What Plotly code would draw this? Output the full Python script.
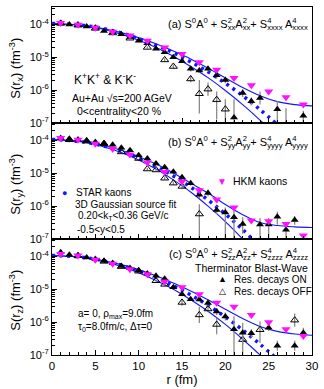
import plotly.graph_objects as go
from plotly.subplots import make_subplots

# ---------------- data: log10 of S(r) in fm^-3 ----------------
r_curve = [0, 4, 8, 12, 14, 16, 18, 20, 22, 24, 26, 28, 30]
r_hkm = [1, 3, 5, 7, 9, 11, 13, 15, 17, 19, 21, 23, 25, 27, 29]

# panel (a)  S(r_x)
a_upper = [-3.97, -4.04, -4.25, -4.59, -4.81, -5.05, -5.33, -5.63, -5.92, -6.17, -6.35, -6.44, -6.48]
a_mid = [-3.97, -4.04, -4.26, -4.63, -4.86, -5.14, -5.44, -5.79, -6.17, -6.59, -7.05]
a_lower = [-3.97, -4.05, -4.30, -4.70, -4.97, -5.28, -5.62, -6.01, -6.44, -6.91, -7.42]
a_hkm = [-3.96, -4.01, -4.10, -4.22, -4.34, -4.50, -4.70, -4.90, -5.15, -5.38, -5.63, -5.85, -6.04, -6.22, -6.44]
a_on_r = [1, 2, 3, 4, 5, 6, 7, 8, 9, 10, 11, 12, 13, 14, 15, 16, 17, 18, 19, 20, 21, 22, 23, 24, 26, 27, 29]
a_on = [-3.96, -4.00, -4.03, -4.06, -4.10, -4.20, -4.24, -4.30, -4.38, -4.50, -4.57, -4.74, -4.85, -5.00,
        -5.12, -5.35, -5.40, -5.35, -5.55, -5.69, -6.83, -6.09, -6.34, -6.24, -6.58, -7.05, -6.78]
a_on_eup = [0.02, 0.02, 0, 0, 0, 0, 0, 0, 0, 0, 0, 0, 0, 0.05, 0.05, 0.08, 0.08, 0.08, 0.1, 0.1,
            0.55, 0.12, 0.12, 0.2, 0.25, 0.5, 0.15]
a_on_edn = [0.02, 0.02, 0, 0, 0, 0, 0, 0, 0, 0, 0, 0, 0, 0.05, 0.05, 0.08, 0.08, 0.08, 0.1, 0.1,
            0.6, 0.12, 0.12, 0.2, 0.45, 0.5, 0.3]
a_off_r = [1, 3, 5, 7, 9, 11, 13, 14, 16, 17, 18, 19, 20]
a_off = [-3.97, -4.02, -4.12, -4.26, -4.42, -4.70, -5.08, -5.28, -5.66, -6.11, -5.97, -6.29, -6.58]
a_off_eup = [0, 0, 0, 0, 0, 0.03, 0.05, 0.06, 0.1, 0.42, 0.2, 0.25, 0.3]
a_off_edn = [0, 0, 0, 0, 0, 0.03, 0.05, 0.06, 0.1, 0.6, 0.2, 0.6, 0.5]

# panel (b)  S(r_y)
b_upper = [-3.97, -4.05, -4.30, -4.72, -4.99, -5.30, -5.60, -5.95, -6.26, -6.50, -6.59, -6.63, -6.65]
b_mid = [-3.97, -4.06, -4.33, -4.79, -5.08, -5.42, -5.81, -6.24, -6.71, -7.24]
b_lower = [-3.97, -4.07, -4.37, -4.87, -5.20, -5.57, -6.00, -6.47, -7.00, -7.58]
b_hkm = [-3.93, -3.98, -4.10, -4.25, -4.43, -4.67, -4.95, -5.25, -5.52, -5.80, -6.04, -6.44, -6.46, -6.54, -6.89]
b_on_r = [1, 2, 3, 4, 5, 6, 7, 8, 9, 10, 11, 12, 13, 14, 15, 16, 17, 18, 19, 20, 21, 22, 24, 25, 26, 27, 28]
b_on = [-3.93, -3.95, -3.97, -4.00, -4.05, -4.09, -4.13, -4.22, -4.30, -4.45, -4.55, -4.70, -4.82, -4.95,
        -5.12, -5.30, -5.65, -5.60, -6.12, -6.19, -6.34, -6.54, -6.56, -6.56, -6.32, -6.72, -6.42]
b_on_eup = [0] * 13 + [0.05, 0.05, 0.08, 0.1, 0.1, 0.12, 0.15, 0.2, 0.2, 0.2, 0.2, 0.15, 0.1, 0.12]
b_on_edn = [0] * 13 + [0.05, 0.05, 0.08, 0.1, 0.1, 0.12, 0.8, 0.7, 0.3, 0.6, 0.6, 0.25, 0.3, 0.15]
b_off_r = [2, 4, 6, 8, 10, 11, 12, 13, 14, 15, 17]
b_off = [-3.98, -4.02, -4.10, -4.35, -4.55, -4.87, -4.90, -5.15, -5.30, -5.40, -6.24]
b_off_eup = [0, 0, 0, 0, 0, 0.03, 0.03, 0.05, 0.05, 0.06, 0.3]
b_off_edn = [0, 0, 0, 0, 0, 0.03, 0.03, 0.05, 0.05, 0.06, 0.9]

# panel (c)  S(r_z)
c_upper = [-3.97, -4.04, -4.25, -4.59, -4.81, -5.05, -5.32, -5.61, -5.89, -6.13, -6.28, -6.36, -6.40]
c_mid = [-3.97, -4.04, -4.27, -4.64, -4.89, -5.17, -5.49, -5.84, -6.24, -6.67, -7.13]
c_lower = [-3.97, -4.05, -4.31, -4.73, -5.00, -5.32, -5.67, -6.07, -6.52, -7.00, -7.53]
c_hkm = [-3.93, -3.97, -4.10, -4.22, -4.39, -4.54, -4.76, -4.94, -5.15, -5.41, -5.53, -5.78, -6.00, -6.22, -6.42]
c_on_r = [1, 2, 3, 4, 5, 6, 7, 8, 9, 10, 11, 12, 13, 14, 15, 16, 17, 18, 19, 20, 21, 22, 23, 25, 26, 28, 29]
c_on = [-3.87, -3.95, -3.97, -4.03, -4.08, -4.14, -4.20, -4.29, -4.35, -4.42, -4.52, -4.59, -4.68, -4.94,
        -5.15, -5.30, -5.31, -5.42, -5.68, -5.83, -6.22, -6.32, -6.34, -6.17, -6.72, -6.72, -6.32]
c_on_eup = [0.03, 0.02] + [0] * 11 + [0.05, 0.06, 0.06, 0.06, 0.08, 0.1, 0.12, 0.4, 0.3, 0.12, 0.15, 0.15, 0.15, 0.15]
c_on_edn = [0.03, 0.02] + [0] * 11 + [0.05, 0.06, 0.06, 0.06, 0.08, 0.1, 0.12, 1.0, 0.8, 0.12, 0.1, 0.15, 0.15, 0.15]
c_off_r = [3, 6, 8, 10, 12, 13, 15, 17, 18, 19, 22, 24, 28]
c_off = [-3.98, -4.15, -4.31, -4.45, -4.74, -4.85, -5.40, -5.78, -5.60, -6.07, -6.53, -6.23, -5.94]
c_off_eup = [0, 0, 0, 0, 0.03, 0.04, 0.1, 0.25, 0.1, 0.2, 0.15, 0.25, 0.2]
c_off_edn = [0, 0, 0, 0, 0.03, 0.04, 0.1, 0.25, 0.1, 0.3, 0.15, 0.4, 0.2]

y_tick_exp = [-7, -6, -5, -4]
x_ticks = [0, 5, 10, 15, 20, 25, 30]

# ---------------- helpers ----------------
def lin(v):
    return [10 ** x for x in v]

def eplus(v, e):
    return [10 ** (x + d) - 10 ** x for x, d in zip(v, e)]

def eminus(v, e):
    return [10 ** x - 10 ** (x - d) for x, d in zip(v, e)]

BLUE = "#1414ff"
MAG = "#ff10ff"
GREY = "#8a8a8a"
FONT = "Liberation Sans, Arial, Helvetica, sans-serif"

panels = [
    dict(upper=a_upper, mid=a_mid, lower=a_lower, hkm=a_hkm, on_r=a_on_r, on=a_on, on_eu=a_on_eup,
         on_ed=a_on_edn, off_r=a_off_r, off=a_off, off_eu=a_off_eup, off_ed=a_off_edn),
    dict(upper=b_upper, mid=b_mid, lower=b_lower, hkm=b_hkm, on_r=b_on_r, on=b_on, on_eu=b_on_eup,
         on_ed=b_on_edn, off_r=b_off_r, off=b_off, off_eu=b_off_eup, off_ed=b_off_edn),
    dict(upper=c_upper, mid=c_mid, lower=c_lower, hkm=c_hkm, on_r=c_on_r, on=c_on, on_eu=c_on_eup,
         on_ed=c_on_edn, off_r=c_off_r, off=c_off, off_eu=c_off_eup, off_ed=c_off_edn),
]

fig = make_subplots(rows=3, cols=1, shared_xaxes=True, vertical_spacing=0)

for row, P in enumerate(panels, start=1):
    fig.add_trace(go.Scatter(x=r_curve[:len(P["upper"])], y=lin(P["upper"]), mode="lines",
                             line=dict(color=BLUE, width=1.1, shape="spline")), row=row, col=1)
    fig.add_trace(go.Scatter(x=r_curve[:len(P["lower"])], y=lin(P["lower"]), mode="lines",
                             line=dict(color=BLUE, width=1.1, shape="spline")), row=row, col=1)
    fig.add_trace(go.Scatter(x=r_curve[:len(P["mid"])], y=lin(P["mid"]), mode="lines",
                             line=dict(color=BLUE, width=3.5, dash="3px,4.5px", shape="spline")),
                  row=row, col=1)
    fig.add_trace(go.Scatter(x=P["off_r"], y=lin(P["off"]), mode="markers",
                             marker=dict(symbol="triangle-up-open", size=7, color="black",
                                         line=dict(width=1)),
                             error_y=dict(type="data", symmetric=False, array=eplus(P["off"], P["off_eu"]),
                                          arrayminus=eminus(P["off"], P["off_ed"]), color=GREY,
                                          thickness=1.3, width=0)), row=row, col=1)
    fig.add_trace(go.Scatter(x=P["on_r"], y=lin(P["on"]), mode="markers",
                             marker=dict(symbol="triangle-up", size=7, color="black"),
                             error_y=dict(type="data", symmetric=False, array=eplus(P["on"], P["on_eu"]),
                                          arrayminus=eminus(P["on"], P["on_ed"]), color=GREY,
                                          thickness=1.3, width=0)), row=row, col=1)
    fig.add_trace(go.Scatter(x=r_hkm, y=lin(P["hkm"]), mode="markers",
                             marker=dict(symbol="triangle-down", size=8, color=MAG)), row=row, col=1)

minor_y = [m * 10 ** e for e in y_tick_exp for m in range(2, 10) if m * 10 ** e < 10 ** -3.47]
for row in (1, 2, 3):
    fig.update_yaxes(type="log", range=[-7, -3.47], tickvals=[10 ** e for e in y_tick_exp],
                     ticktext=["10<sup>%d</sup>" % e for e in y_tick_exp], ticks="inside", ticklen=5,
                     tickcolor="black", showline=True, mirror=True, linecolor="black", linewidth=1,
                     showgrid=False, zeroline=False, tickfont=dict(size=11, family=FONT, color="black"),
                     minor=dict(ticks="inside", ticklen=2.5, tickvals=minor_y, tickcolor="black"),
                     row=row, col=1)
    fig.update_xaxes(range=[0, 30], tickvals=x_ticks, ticks="inside", ticklen=5, tickcolor="black",
                     showline=True, mirror=True, linecolor="black", linewidth=1, showgrid=False,
                     zeroline=False, tickfont=dict(size=11.5, family=FONT, color="black"),
                     minor=dict(ticks="inside", ticklen=3, dtick=1, tick0=0, tickcolor="black"),
                     row=row, col=1)
fig.update_xaxes(title=dict(text="r (fm)", font=dict(size=13, family=FONT, color="black"), standoff=2),
                 row=3, col=1)

L, R, T, B, W, H = 52, 6, 6, 29, 324, 389
PW, PH = W - L - R, H - T - B

def ann(text, px, py, anchor="left", size=11, color="black", angle=0):
    fig.add_annotation(text=text, xref="paper", yref="paper", x=(px - L) / PW, y=(H - B - py) / PH,
                       xanchor=anchor, yanchor="middle", showarrow=False, textangle=angle,
                       font=dict(size=size, family=FONT, color=color))

def st(base, sup, sub, size=11):
    w = round(0.556 * size * 0.7, 2)
    return "%s<sup><span style='letter-spacing:-%spx'>%s</span></sup><sub>%s</sub>" % (base, w, sup, sub)

def title(lbl, s2, s4):
    return ("(%s) S<sup>0</sup>A<sup>0</sup> + " % lbl + st("S", "2", s2) + st("A", "2", s2) + "+ "
            + st("S", "4", s4) + " " + st("A", "4", s4))

ann(title("a", "xx", "xxxx"), 316, 23, anchor="right")
ann(title("b", "yy", "yyyy"), 316, 143, anchor="right")
ann(title("c", "zz", "zzzz"), 316, 257, anchor="right")

for txt, py in [("S(r<sub>x</sub>) (fm<sup>-3</sup>)", 68),
                ("S(r<sub>y</sub>) (fm<sup>-3</sup>)", 186),
                ("S(r<sub>z</sub>) (fm<sup>-3</sup>)", 304)]:
    ann(txt, 15, py, anchor="center", size=13, angle=-90)

ann("K<sup>+</sup>K<sup>+</sup> &amp; K<sup>-</sup>K<sup>-</sup>", 72, 79, size=12)
ann("Au+Au √s=200 AGeV", 70, 99, size=10.5)
ann("0&lt;centrality&lt;20 %", 76, 112, size=10.5)

ann("▼", 226, 183, anchor="center", size=10, color=MAG)
ann("HKM kaons", 235, 183, size=10.5)
ann("●", 65, 195, anchor="center", size=9, color=BLUE)
ann("STAR kaons", 74, 195, size=10)
ann("3D Gaussian source fit", 73, 206.5, size=10)
ann("0.20&lt;k<sub>T</sub>&lt;0.36 GeV/c", 77, 219, size=10)
ann("-0.5&lt;y&lt;0.5", 76, 232, size=10)

ann("Therminator Blast-Wave", 196, 271, size=10.5)
ann("▲", 226, 283, anchor="center", size=9)
ann("Res. decays ON", 236, 283, size=10)
ann("△", 226, 295, anchor="center", size=9)
ann("Res. decays OFF", 236, 295, size=10)
ann("a= 0, ρ<sub>max</sub>=9.0fm", 77, 318.5, size=10)
ann("τ<sub>0</sub>=8.0fm/c, Δτ=0", 77, 332, size=10)

fig.update_layout(width=W, height=H, margin=dict(l=L, r=R, t=T, b=B), showlegend=False,
                  plot_bgcolor="white", paper_bgcolor="white",
                  font=dict(family=FONT, color="black"))

fig.write_html("out.html")
